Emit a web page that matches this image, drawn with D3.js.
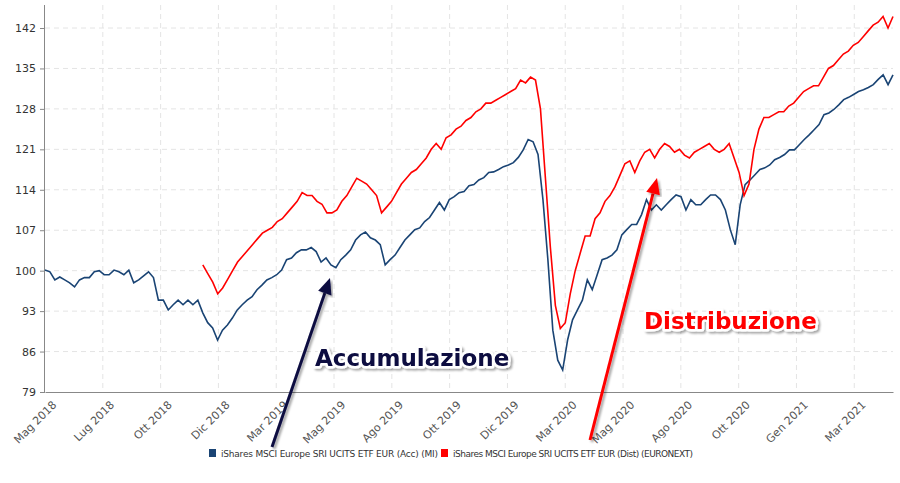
<!DOCTYPE html>
<html><head><meta charset="utf-8">
<script src="https://cdn.jsdelivr.net/npm/d3@7"></script>
<style>body{margin:0;background:#fff}</style></head>
<body><svg id="c" width="900" height="483"></svg>
<script>
const xTickLabels=["Mag 2018","Lug 2018","Ott 2018","Dic 2018","Mar 2019","Mag 2019","Ago 2019","Ott 2019","Dic 2019","Mar 2020","Mag 2020","Ago 2020","Ott 2020","Gen 2021","Mar 2021"];
const yTicks=[79,86,93,100,107,114,121,128,135,142];
const seriesNames=["iShares MSCI Europe SRI UCITS ETF EUR (Acc) (MI)","iShares MSCI Europe SRI UCITS ETF EUR (Dist) (EURONEXT)"];
const seriesColors=["#1a4474","#ff0000"];
const accStart=0, distStart=2.73, seriesEnd=14.67;
const accValues=[100.1,99.8,98.4,98.9,98.4,97.9,97.2,98.4,98.8,98.8,99.8,100,99.3,99.3,100.1,99.8,99.3,100.1,97.9,98.4,99.1,99.8,98.8,94.9,94.9,93.2,94.1,94.9,94.1,94.9,94.1,94.9,92.7,91,90.1,88,89.7,90.6,91.8,93.2,94.1,94.9,95.5,96.7,97.5,98.4,98.8,99.3,100.1,101.9,102.2,103.1,103.6,103.6,104,103.3,101.5,102.2,101,100.5,101.9,102.7,103.6,105.3,106.2,106.7,105.7,105.3,104.5,101,101.9,102.7,104,105.3,106.2,107.1,107.4,108.5,109.2,110.5,111.8,110.5,112.3,112.8,113.5,113.7,114.7,114.9,115.7,116.1,117,117.1,117.5,118,118.3,118.7,119.6,120.9,122.7,122.3,120.1,112.3,101.9,89.7,84.5,82.8,88,91.5,93.2,94.9,98.4,96.7,99.3,101.9,102.2,102.7,103.6,106.2,107.1,108,108,109.7,112.3,110.5,111.4,110.5,111.4,112.3,113.1,112.8,110.5,112.3,111.4,111.4,112.3,113.1,113.1,112.3,110.5,107.1,104.5,111.4,114.9,115.7,116.6,117.5,117.8,118.3,119.2,119.6,120.1,120.9,120.9,121.8,122.7,123.5,124.4,125.3,127,127.3,127.9,128.7,129.6,130,130.5,131,131.3,131.7,132.2,133.1,133.9,132.2,133.9];
const distValues=[101,99.5,98,96,97,98.5,100,101.5,102.5,103.5,104.5,105.5,106.5,107,107.5,108.5,109,110,111,112,113.5,113,113,112,111.5,110,110,110.5,112,113,114.5,116,115.5,115,114,113,110,111,112,113.5,115,116,117,117.5,118.5,119.5,121,122,121,123,123.5,124.5,125,126,126.5,127.5,128,129,129,129.5,130,130.5,131,131.5,133,132.5,133.5,133,128,116,104,94,90,91,96,100,103,106,106,109,110,112,113,114.5,116.5,118.5,119,117,119,120.5,121,119.5,121,122,121.5,120.5,121,120,119.5,120.5,121,121.5,122,121,120.5,121,122,119.5,117,113,115,121,124.5,126.5,126.5,127,127.5,127.5,128.5,129,130,131,131.5,132,132,133.5,135,135.5,136.5,137.5,138,139,139.5,140.5,141.5,142.5,143,144,142,144];

const svg=d3.select("#c");
const L=45,R=893,T=5,B=392;
const x=d3.scaleLinear().domain([0,seriesEnd]).range([L,R]);
const y=d3.scaleLinear().domain([79,142]).range([B,28]);
const g=svg.append("g");
g.selectAll(".gy").data(yTicks.slice(1)).join("line").attr("x1",L).attr("x2",R).attr("y1",d=>y(d)).attr("y2",d=>y(d)).attr("stroke","#e4e4e4").attr("stroke-dasharray","5,4");
g.selectAll(".gx").data(xTickLabels.slice(1)).join("line").attr("x1",(d,i)=>x(i+1)).attr("x2",(d,i)=>x(i+1)).attr("y1",T).attr("y2",B).attr("stroke","#e4e4e4").attr("stroke-dasharray","5,4");
const ya=svg.append("g").attr("transform",`translate(${L},0)`).call(d3.axisLeft(y).tickValues(yTicks).tickSize(5).tickPadding(4));
ya.select(".domain").attr("d",`M-0.5,${T}V${B}`).attr("stroke","#888");
ya.selectAll(".tick line").attr("stroke","#888");
ya.selectAll("text").attr("font-family","Verdana, DejaVu Sans, sans-serif").attr("font-size",11).attr("fill","#333");
const xa=svg.append("g").attr("transform",`translate(0,${B})`).call(d3.axisBottom(x).tickValues(d3.range(xTickLabels.length)).tickFormat(i=>xTickLabels[i]).tickSize(0));
xa.select(".domain").attr("stroke","#888");
xa.selectAll("text").attr("font-family","Verdana, DejaVu Sans, sans-serif").attr("font-size",11).attr("fill","#555").attr("text-anchor","end").attr("transform","translate(4,6) rotate(-45)");
function draw(vals,start,col){
  const xs=d3.scaleLinear().domain([0,vals.length-1]).range([start,seriesEnd]);
  svg.append("path").datum(vals).attr("fill","none").attr("stroke",col).attr("stroke-width",1.6)
   .attr("d",d3.line().x((d,i)=>x(xs(i))).y(d=>y(d)));
}
draw(accValues,accStart,seriesColors[0]);
draw(distValues,distStart,seriesColors[1]);
const lg=svg.append("g").attr("font-family","Verdana, DejaVu Sans, sans-serif").attr("font-size",9).attr("fill","#333");
lg.append("rect").attr("x",209).attr("y",449).attr("width",7).attr("height",8).attr("fill",seriesColors[0]);
lg.append("text").attr("x",221).attr("y",457).text(seriesNames[0]).attr("textLength",217);
lg.append("rect").attr("x",441).attr("y",449).attr("width",7).attr("height",8).attr("fill",seriesColors[1]);
lg.append("text").attr("x",453).attr("y",457).text(seriesNames[1]).attr("textLength",240);
const defs=svg.append("defs");
defs.append("filter").attr("id","sh").html('<feDropShadow dx="2" dy="2" stdDeviation="1.2" flood-color="#000" flood-opacity="0.35"/>');
function arrow(x1,y1,x2,y2,col){
  const a=Math.atan2(y2-y1,x2-x1),h=16,w=7;
  const bx=x2-h*Math.cos(a),by=y2-h*Math.sin(a);
  svg.append("line").attr("x1",x1).attr("y1",y1).attr("x2",bx).attr("y2",by).attr("stroke",col).attr("stroke-width",3).attr("filter","url(#sh)");
  svg.append("path").attr("d",`M${x2},${y2}L${bx-w*Math.sin(a)},${by+w*Math.cos(a)}L${bx+w*Math.sin(a)},${by-w*Math.cos(a)}Z`).attr("fill",col).attr("filter","url(#sh)");
}
arrow(272,447,330,278,"#0a0a40");
arrow(590,440,657,178,"#ff0000");
function label(t,xx,yy,col){
  svg.append("text").attr("x",xx).attr("y",yy).text(t).attr("font-family","DejaVu Sans, sans-serif").attr("font-weight","bold").attr("font-size",23)
   .attr("fill",col).attr("stroke","#fff").attr("stroke-width",5).attr("paint-order","stroke").attr("stroke-linejoin","round").attr("filter","url(#sh)");
}
label("Accumulazione",315,366,"#0a0a40");
label("Distribuzione",644,329,"#ff0000");
</script></body></html>
